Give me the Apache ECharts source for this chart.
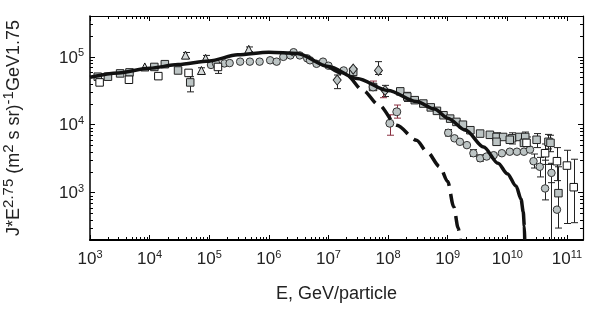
<!DOCTYPE html>
<html>
<head>
<meta charset="utf-8">
<script src="https://cdn.jsdelivr.net/npm/echarts@6/dist/echarts.min.js"></script>
<style>
html,body{margin:0;padding:0;background:#fff;}
#chart{width:595px;height:317px;}
</style>
</head>
<body>
<div id="chart"></div>
<script>
// ---- axis ranges / ticks ----
const xMin = 1e3, xMax = 1.86e11;
const yMin = 200, yMax = 4.0e5;
const xDecades = [1e3, 1e4, 1e5, 1e6, 1e7, 1e8, 1e9, 1e10, 1e11];
const yDecades = [1e2, 1e3, 1e4, 1e5];
const minorMult = [2, 3, 4, 5, 6, 7, 8, 9];

// ---- model curves ----
const solidE = [1e3, 3e3, 1e4, 3e4, 1e5, 3e5, 1e6, 3e6, 1e7, 3e7, 1e8, 3e8, 6e8, 1e9, 2e9, 4e9, 7e9, 1e10, 1.4e10, 1.7e10, 1.85e10, 1.93e10, 1.96e10];
const solidJ = [5.0e4, 5.8e4, 6.8e4, 7.7e4, 8.7e4, 1.07e5, 1.17e5, 1.12e5, 7.2e4, 4.8e4, 3.2e4, 2.2e4, 1.7e4, 1.25e4, 8.3e3, 4.7e3, 2.7e3, 1.9e3, 1.25e3, 800, 520, 320, 200];
const dashE = [1e7, 2e7, 3.8e7, 7e7, 1.4e8, 3e8, 4.5e8, 7.4e8, 1e9, 1.26e9, 1.5e9, 1.62e9];
const dashJ = [7.2e4, 5.4e4, 3.2e4, 1.95e4, 9.8e3, 5.9e3, 4.0e3, 2.4e3, 1.45e3, 620, 300, 200];

// ---- measurements ----
const openSqE = [1.45e3, 4.5e3, 1.4e4, 4.5e4, 1.4e5, 2.1e10, 4.3e10, 6.8e10, 1.0e11, 1.3e11];
const openSqJ = [4.2e4, 4.6e4, 5.2e4, 5.8e4, 7.1e4, 5.4e3, 3.8e3, 2.9e3, 2.5e3, 1.2e3];

const greySqE = [1.35e3, 2e3, 3.2e3, 4.6e3, 1.2e4, 1.8e4, 3e4, 4.8e4,
  2.6e7, 5.6e7, 1.6e8, 2.1e8, 2.8e8, 3.9e8, 5.2e8, 6.6e8, 8.5e8, 1.1e9, 1.4e9, 1.8e9, 2.4e9, 3.5e9, 5.1e9, 6.6e9, 8.5e9,
  1.2e10, 1.6e10, 2e10, 3.1e10, 4.9e10, 6.6e9, 1.1e10, 1.9e10, 5.3e10, 7.2e10];
const greySqJ = [5.1e4, 5.1e4, 5.7e4, 5.9e4, 7.1e4, 7.8e4, 6.3e4, 4.2e4,
  6.0e4, 3.6e4, 3.1e4, 2.6e4, 2.3e4, 2.05e4, 1.8e4, 1.6e4, 1.38e4, 1.23e4, 1.1e4, 1.0e4, 8.3e3, 7.4e3, 7.1e3, 6.6e3, 6.6e3,
  6.3e3, 6.6e3, 6.6e3, 6.0e3, 5.6e3, 5.6e3, 6.0e3, 5.4e3, 5.4e3, 980];

const circE = [1.07e5, 1.3e5, 1.8e5, 2.2e5, 3.3e5, 4.8e5, 7e5, 1.05e6, 1.35e6, 1.75e6, 2.3e6, 2.6e6, 3.3e6, 4.4e6, 4.9e6, 6.3e6, 8.1e6, 1e7, 1.8e7,
  1.02e9, 1.3e9, 1.6e9, 2.1e9, 2.7e9, 3.5e9, 4.5e9, 5.9e9, 8.1e9, 1.1e10, 1.45e10, 1.9e10, 2.4e10, 2.75e10, 3.5e10, 5.5e10, 4.3e10, 6.8e10];
const circJ = [7.6e4, 8.0e4, 8.0e4, 8.1e4, 8.5e4, 8.5e4, 8.5e4, 8.9e4, 8.5e4, 1.0e5, 1.05e5, 1.17e5, 1.05e5, 9.5e4, 8.9e4, 7.9e4, 8.5e4, 7.4e4, 6.3e4,
  7.6e3, 6.3e3, 5.6e3, 5.0e3, 3.8e3, 3.2e3, 3.4e3, 3.55e3, 3.8e3, 4.0e3, 4.0e3, 4.0e3, 4.3e3, 2.9e3, 2.4e3, 1.95e3, 1.15e3, 560];

const triE = [8.3e3, 4e4, 7.4e4, 8.7e4, 4.6e5];
const triJ = [7.1e4, 1.06e5, 6.3e4, 9.5e4, 1.29e5];

const diaE = [1.4e7, 2.6e7, 6.9e7, 8.9e7];
const diaJ = [4.55e4, 6.6e4, 6.3e4, 3.2e4];

const hexE = [5.6e7, 1.07e8, 1.4e8];
const hexJ = [3.6e4, 1.05e4, 1.55e4];

// error bars: energy, low, high
const errE  = [4.8e4, 4e4, 7.4e4, 8.7e4, 4.6e5, 3e4, 1.4e5, 1.4e7, 6.9e7, 2.6e7, 8.9e7, 2.1e8,
  6.6e9, 1.2e10, 2e10, 3.1e10, 4.9e10, 5.3e10, 2.1e10, 4.3e10, 6.8e10, 1.0e11, 1.3e11,
  2.75e10, 3.5e10, 4.3e10, 5.5e10, 7.0e10, 5.4e10, 2.7e9, 3.5e9, 1.02e9];
const errLo = [3.05e4, 9.5e4, 5.7e4, 8.6e4, 1.2e5, 6.0e4, 5.7e4, 3.4e4, 5.5e4, 5.3e4, 2.6e4, 2.2e4,
  5.0e3, 5.2e3, 5.6e3, 4.6e3, 4.4e3, 4.0e3, 4.3e3, 2.6e3, 1.5e3, 350, 360,
  2.3e3, 1.7e3, 780, 1.4e3, 300, 120, 3.4e3, 2.9e3, 6.8e3];
const errHi = [5.1e4, 1.16e5, 6.9e4, 1.05e5, 1.4e5, 6.7e4, 7.5e4, 5.4e4, 8.5e4, 6.8e4, 3.8e4, 3.0e4,
  7.6e3, 7.6e3, 7.8e3, 7.4e3, 7.2e3, 7.0e3, 6.6e3, 5.2e3, 4.6e3, 4.2e3, 3.1e3,
  3.7e3, 3.3e3, 3.0e3, 2.7e3, 2.4e3, 2.6e3, 4.3e3, 3.6e3, 8.5e3];

const errRedE  = [5.6e7, 1.07e8, 1.4e8, 8.3e7];
const errRedLo = [3.2e4, 7.0e3, 1.25e4, 2.5e4];
const errRedHi = [4.4e4, 1.4e4, 1.95e4, 3.3e4];

// ---- helpers ----
const zip = (a, b) => a.map((v, i) => [v, b[i]]);
const zip3 = (a, b, c) => a.map((v, i) => [v, b[i], c[i]]);
const minorX = [], minorY = [];
xDecades.forEach(d => minorMult.forEach(m => { const v = d * m; if (v > xMin && v < xMax) minorX.push([v, yMin]); }));
yDecades.forEach(d => minorMult.forEach(m => { const v = d * m; if (v > yMin && v < yMax) minorY.push([xMin, v]); }));

const INK = '#111';
const GREY = '#bcc4c4';

function errRender(color) {
  return function (params, api) {
    const x = api.value(0), lo = api.value(1), hi = api.value(2);
    const p1 = api.coord([x, hi]);
    const p2 = api.coord([x, lo]);
    const cx = Math.round(p1[0]) + 0.5;
    const w = 3.5;
    const st = { stroke: color, lineWidth: 1 };
    return {
      type: 'group',
      children: [
        { type: 'line', shape: { x1: cx, y1: p1[1], x2: cx, y2: p2[1] }, style: st },
        { type: 'line', shape: { x1: cx - w, y1: p1[1], x2: cx + w, y2: p1[1] }, style: st },
        { type: 'line', shape: { x1: cx - w, y1: p2[1], x2: cx + w, y2: p2[1] }, style: st }
      ]
    };
  };
}

function minorXRender(params, api) {
  const cs = params.coordSys;
  const x = Math.round(api.coord([api.value(0), yMin])[0]) + 0.5;
  const yb = cs.y + cs.height, yt = cs.y;
  const st = { stroke: '#000', lineWidth: 1 };
  return { type: 'group', children: [
    { type: 'line', shape: { x1: x, y1: yb, x2: x, y2: yb - 3 }, style: st },
    { type: 'line', shape: { x1: x, y1: yt, x2: x, y2: yt + 3 }, style: st }
  ]};
}
function minorYRender(params, api) {
  const cs = params.coordSys;
  const y = Math.round(api.coord([xMin, api.value(1)])[1]) + 0.5;
  const xl = cs.x, xr = cs.x + cs.width;
  const st = { stroke: '#000', lineWidth: 1 };
  return { type: 'group', children: [
    { type: 'line', shape: { x1: xl, y1: y, x2: xl + 3, y2: y }, style: st },
    { type: 'line', shape: { x1: xr, y1: y, x2: xr - 3, y2: y }, style: st }
  ]};
}

function powLabel(v) {
  const e = Math.log10(v);
  const n = Math.round(e);
  if (Math.abs(e - n) > 1e-6) return '';
  return '{b|10}{e|' + n + '}';
}
const labelRich = {
  b: { fontSize: 17, fontFamily: 'Liberation Sans', color: '#222', lineHeight: 19, verticalAlign: 'bottom' },
  e: { fontSize: 11, fontFamily: 'Liberation Sans', color: '#222', lineHeight: 13, verticalAlign: 'top' }
};
const nameRich = {
  n: { fontSize: 18, fontFamily: 'Liberation Sans', color: '#222', lineHeight: 22, verticalAlign: 'bottom' },
  s: { fontSize: 15, fontFamily: 'Liberation Sans', color: '#222', lineHeight: 18, verticalAlign: 'top' }
};

const axisLineStyle = { show: true, lineStyle: { color: '#000', width: 1.2 } };
const majorTick = { show: true, inside: true, length: 5, lineStyle: { color: '#000', width: 1 } };

const chart = echarts.init(document.getElementById('chart'), null, { renderer: 'canvas' });
chart.setOption({
  animation: false,
  backgroundColor: '#fff',
  grid: { left: 90, right: 12, top: 16, bottom: 77, show: false, containLabel: false, outerBoundsMode: 'none' },
  xAxis: [
    {
      type: 'log', logBase: 10, min: xMin, max: xMax, position: 'bottom',
      axisLine: { show: true, lineStyle: { color: '#000', width: 2 } },
      axisTick: majorTick, minorTick: { show: false }, splitLine: { show: false },
      axisLabel: { formatter: powLabel, rich: labelRich, margin: 9, showMinLabel: true, showMaxLabel: true, hideOverlap: false },
      name: 'E, GeV/particle', nameLocation: 'middle', nameGap: 45,
      nameTextStyle: { fontSize: 18, fontFamily: 'Liberation Sans', color: '#222' }
    },
    {
      type: 'log', logBase: 10, min: xMin, max: xMax, position: 'top',
      axisLine: axisLineStyle, axisTick: majorTick, axisLabel: { show: false }, splitLine: { show: false }
    }
  ],
  yAxis: [
    {
      type: 'log', logBase: 10, min: yMin, max: yMax, position: 'left',
      axisLine: { show: true, lineStyle: { color: '#000', width: 1.5 } },
      axisTick: majorTick, minorTick: { show: false }, splitLine: { show: false },
      axisLabel: { formatter: powLabel, rich: labelRich, margin: 6, hideOverlap: false },
      name: '{n|J*E}{s|2.75}{n| (m}{s|2}{n| s sr)}{s|-1}{n|GeV1.75}',
      nameLocation: 'middle', nameGap: 67, nameRotate: 90,
      nameTextStyle: { rich: nameRich }
    },
    {
      type: 'log', logBase: 10, min: yMin, max: yMax, position: 'right',
      axisLine: axisLineStyle, axisTick: majorTick, axisLabel: { show: false }, splitLine: { show: false }
    }
  ],
  series: [
    { type: 'custom', renderItem: minorXRender, data: minorX, silent: true, z: 1 },
    { type: 'custom', renderItem: minorYRender, data: minorY, silent: true, z: 1 },
    { type: 'custom', renderItem: errRender('#222'), data: zip3(errE, errLo, errHi), encode: { x: 0, y: [1, 2] }, clip: true, z: 2 },
    { type: 'custom', renderItem: errRender('#8a3040'), data: zip3(errRedE, errRedLo, errRedHi), encode: { x: 0, y: [1, 2] }, clip: true, z: 2 },
    { type: 'scatter', data: zip(circE, circJ), symbol: 'circle', symbolSize: 7.5,
      itemStyle: { color: GREY, borderColor: '#333', borderWidth: 1, opacity: 1 }, z: 3 },
    { type: 'scatter', data: zip(greySqE, greySqJ), symbol: 'rect', symbolSize: 7.5,
      itemStyle: { color: GREY, borderColor: '#222', borderWidth: 1, opacity: 1 }, z: 3 },
    { type: 'scatter', data: zip(openSqE, openSqJ), symbol: 'rect', symbolSize: 7.5,
      itemStyle: { color: '#fff', borderColor: '#111', borderWidth: 1, opacity: 1 }, z: 3 },
    { type: 'scatter', data: zip(triE, triJ), symbol: 'triangle', symbolSize: 8,
      itemStyle: { color: '#d6dada', borderColor: '#111', borderWidth: 1, opacity: 1 }, z: 3 },
    { type: 'scatter', data: zip(diaE, diaJ), symbol: 'diamond', symbolSize: [8, 10],
      itemStyle: { color: GREY, borderColor: '#222', borderWidth: 1, opacity: 1 }, z: 3 },
    { type: 'scatter', data: zip(hexE, hexJ), symbol: 'circle', symbolSize: 8,
      itemStyle: { color: GREY, borderColor: '#333', borderWidth: 1, opacity: 1 }, z: 3 },
    { type: 'line', data: zip(dashE, dashJ), showSymbol: false, smooth: 0.3, smoothMonotone: 'x',
      lineStyle: { color: INK, width: 3.5, type: [15, 8], cap: 'butt' }, z: 4 },
    { type: 'line', data: zip(solidE, solidJ), showSymbol: false, smooth: 0.3, smoothMonotone: 'x',
      lineStyle: { color: INK, width: 3.5 }, z: 5 }
  ]
});
</script>
</body>
</html>
